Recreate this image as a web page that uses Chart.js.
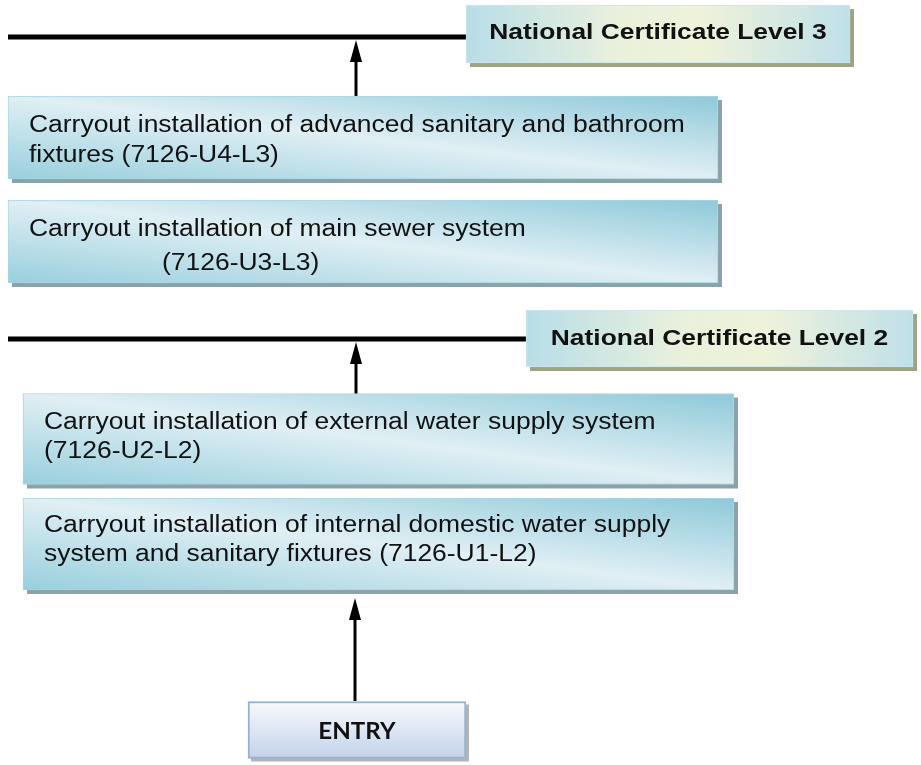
<!DOCTYPE html>
<html>
<head>
<meta charset="utf-8">
<script src="https://cdn.jsdelivr.net/npm/chart.js@4"></script>
<style>
  body { margin: 0; background: #fff; }
  #wrap { width: 921px; height: 765px; position: relative; }
</style>
</head>
<body>
<div id="wrap"><canvas id="chart"></canvas></div>
<script>
// diagram content
const levelLabels = ['National Certificate Level 3', 'National Certificate Level 2'];
const unitLabels = [
  ['Carryout installation of advanced sanitary and bathroom', 'fixtures (7126-U4-L3)'],
  ['Carryout installation of main sewer system', '(7126-U3-L3)'],
  ['Carryout installation of external water supply system', '(7126-U2-L2)'],
  ['Carryout installation of internal domestic water supply', 'system and sanitary fixtures (7126-U1-L2)']
];
const entryLabel = ['ENTRY'];

// layout in diagram units (x: 0..921, y: 0..765 top-down)
// lines: [left x, baseline y] for each text line
const layout = {
  levels: [
    { x: [466, 850], y: 34, h: 58, base: 39 },
    { x: [526, 913], y: 338.5, h: 57, base: 345 }
  ],
  units: [
    { x: [8, 718], y: 137.5, h: 83, lines: [[29, 132], [29, 162]] },
    { x: [8, 718], y: 241.5, h: 83, lines: [[29, 236], [162, 270]] },
    { x: [23, 734], y: 439, h: 91, lines: [[44, 429], [44, 458]] },
    { x: [23, 734], y: 544, h: 92, lines: [[44, 532], [44, 561]] }
  ],
  entry: { x: [248, 466], y: 730, h: 57, base: 739 },
  rules: [
    { x: [8, 466], y: 37 },
    { x: [8, 526], y: 339 }
  ],
  arrows: [
    { x: 356, y: [96, 40] },
    { x: 356, y: [394, 342] },
    { x: 355, y: [701, 598] }
  ]
};

// narrow arrowhead used as point style
const head = document.createElement('canvas');
head.width = 12; head.height = 22;
(function () {
  const c = head.getContext('2d');
  c.fillStyle = '#000';
  c.beginPath();
  c.moveTo(6, 0);
  c.lineTo(12, 22);
  c.lineTo(0, 22);
  c.closePath();
  c.fill();
})();

function boxPx(ctx) {
  const { x, y } = ctx.chart.scales;
  const r = ctx.raw;
  const h = ctx.dataset.barThickness;
  const yc = y.getPixelForValue(r.y);
  const b = { x0: x.getPixelForValue(r.x[0]), x1: x.getPixelForValue(r.x[1]), y0: yc - h / 2, y1: yc + h / 2 };
  return [b.x0, b.x1, b.y0, b.y1].every(isFinite) ? b : null;
}

// mode: 'h' horizontal, 'v' vertical, 'd' office style diagonal (bottom-left -> top-right)
function makeFill(fallback, stops, mode) {
  return function (ctx) {
    if (!ctx.chart.scales.x || !ctx.raw) return fallback;
    const b = boxPx(ctx);
    if (!b) return fallback;
    const c = ctx.chart.ctx;
    let g;
    if (mode === 'v') {
      g = c.createLinearGradient(0, b.y0, 0, b.y1);
    } else if (mode === 'h') {
      g = c.createLinearGradient(b.x0, 0, b.x1, 0);
    } else {
      const w = b.x1 - b.x0, h = b.y1 - b.y0;
      const L = Math.sqrt(w * w + h * h);
      const nx = h / L, ny = -w / L, d = h * w / L;
      const cx = (b.x0 + b.x1) / 2, cy = (b.y0 + b.y1) / 2;
      g = c.createLinearGradient(cx - nx * d, cy - ny * d, cx + nx * d, cy + ny * d);
    }
    stops.forEach(function (s) { g.addColorStop(s[0], s[1]); });
    return g;
  };
}

const unitFill = makeFill('#cfe8ef', [[0, '#98cfdd'], [0.5, '#e0eff4'], [1, '#8ec9d9']], 'd');
const levelFill = makeFill('#e3efdf', [[0, '#b8dde8'], [0.4, '#e9f1dc'], [0.62, '#eef2da'], [1, '#bfe0e9']], 'h');
const entryFill = makeFill('#dde7f4', [[0, '#f8fafd'], [1, '#c2d2ea']], 'v');

const datasets = [];

layout.rules.forEach(function (r) {
  datasets.push({
    type: 'line',
    data: [{ x: r.x[0], y: r.y }, { x: r.x[1], y: r.y }],
    borderColor: '#000',
    borderWidth: 5,
    pointRadius: 0,
    order: 5
  });
});

layout.arrows.forEach(function (a) {
  datasets.push({
    type: 'line',
    data: [{ x: a.x, y: a.y[0] }, { x: a.x, y: a.y[1] + 11 }],
    borderColor: '#000',
    borderWidth: 3,
    pointStyle: head,
    pointRadius: [0, 6],
    order: 4
  });
});

layout.levels.forEach(function (b, i) {
  datasets.push({
    type: 'bar',
    kind: 'level',
    text: [levelLabels[i]],
    base: b.base,
    data: [{ y: b.y, x: b.x }],
    barThickness: b.h,
    grouped: false,
    backgroundColor: levelFill,
    borderColor: '#cfe6ec',
    borderWidth: 1,
    borderSkipped: false,
    shadow: '#9ea384',
    order: 1
  });
});

layout.units.forEach(function (b, i) {
  datasets.push({
    type: 'bar',
    kind: 'unit',
    text: unitLabels[i],
    lines: b.lines,
    data: [{ y: b.y, x: b.x }],
    barThickness: b.h,
    grouped: false,
    backgroundColor: unitFill,
    borderColor: '#a8d6e2',
    borderWidth: 1,
    borderSkipped: false,
    shadow: '#8ba2a9',
    order: 1
  });
});

datasets.push({
  type: 'bar',
  kind: 'entry',
  text: entryLabel,
  base: layout.entry.base,
  data: [{ y: layout.entry.y, x: layout.entry.x }],
  barThickness: layout.entry.h,
  grouped: false,
  backgroundColor: entryFill,
  borderColor: '#93b1d6',
  borderWidth: 2,
  borderSkipped: false,
  shadow: '#b4b4b4',
  order: 1
});

// flat drop shadow behind each box, drawn from the bar element geometry
const shadowPlugin = {
  id: 'boxShadow',
  beforeDatasetDraw(chart, args) {
    const ds = chart.data.datasets[args.index];
    if (!ds.shadow) return;
    const ctx = chart.ctx;
    const off = ds.kind === 'entry' ? 3 : 4;
    ctx.save();
    ctx.fillStyle = ds.shadow;
    args.meta.data.forEach(function (el) {
      const p = el.getProps(['x', 'y', 'base', 'height'], true);
      const left = Math.min(p.x, p.base);
      ctx.fillRect(left + off, p.y - p.height / 2 + off, Math.abs(p.x - p.base), p.height);
    });
    ctx.restore();
  }
};

const textPlugin = {
  id: 'boxText',
  afterDatasetsDraw(chart) {
    const ctx = chart.ctx;
    const { x, y } = chart.scales;
    chart.data.datasets.forEach(function (ds, i) {
      if (!ds.text) return;
      const el = chart.getDatasetMeta(i).data[0];
      if (!el) return;
      ctx.save();
      ctx.fillStyle = '#111';
      ctx.textBaseline = 'alphabetic';
      if (ds.kind === 'unit') {
        ctx.font = '23px "Liberation Sans", Arial, sans-serif';
        ctx.textAlign = 'left';
        ds.text.forEach(function (t, k) {
          ctx.save();
          ctx.translate(x.getPixelForValue(ds.lines[k][0]), y.getPixelForValue(ds.lines[k][1]));
          ctx.scale(1.15, 1);
          ctx.fillText(t, 0, 0);
          ctx.restore();
        });
      } else {
        const level = ds.kind === 'level';
        ctx.textAlign = 'center';
        ctx.font = level
          ? 'bold 22px "Liberation Sans", Arial, sans-serif'
          : 'bold 23px Lato, "Open Sans", sans-serif';
        ctx.translate((el.x + el.base) / 2, y.getPixelForValue(ds.base));
        ctx.scale(level ? 1.2 : 1.05, 1);
        ctx.fillText(ds.text[0], 0, 0);
      }
      ctx.restore();
    });
  }
};

new Chart(document.getElementById('chart'), {
  type: 'bar',
  data: { datasets: datasets },
  options: {
    indexAxis: 'y',
    responsive: true,
    maintainAspectRatio: false,
    animation: false,
    layout: { padding: 0, autoPadding: false },
    plugins: { legend: { display: false }, tooltip: { enabled: false } },
    scales: {
      x: { type: 'linear', min: 0, max: 921, offset: false, display: false },
      y: { type: 'linear', min: 0, max: 765, reverse: true, offset: false, display: false }
    }
  },
  plugins: [shadowPlugin, textPlugin]
});
</script>
</body>
</html>
